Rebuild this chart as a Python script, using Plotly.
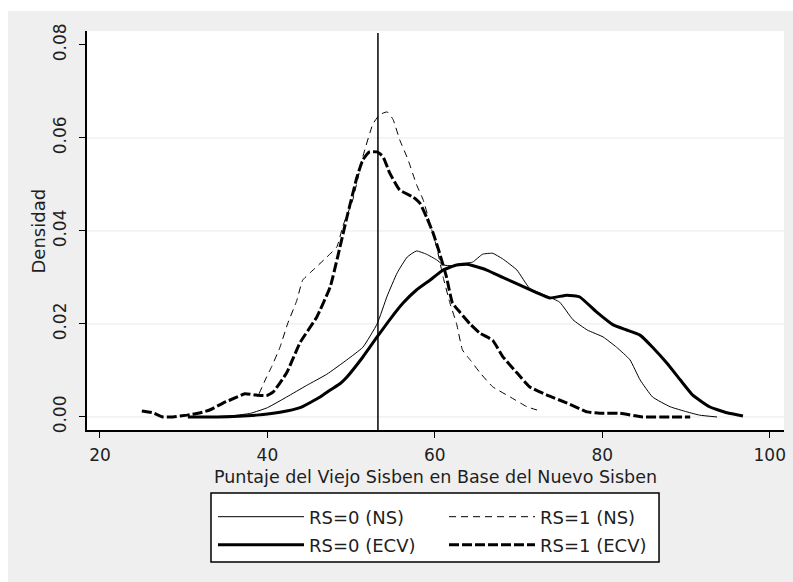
import plotly.graph_objects as go

# ---- data ----
ns0_x = [33.0, 36.0, 38.0, 40.0, 42.3, 44.7, 47.1, 49.5, 51.4, 53.1, 54.3, 55.5, 56.7, 57.8, 59.0,
         60.2, 61.0, 62.0, 63.0, 64.5, 65.7, 66.9, 68.1, 69.8, 71.3, 73.4, 74.9, 76.5, 78.2, 80.1,
         81.7, 83.3, 84.5, 86.0, 88.1, 90.1, 91.6, 93.7]
ns0_y = [0.0, 0.0003, 0.0008, 0.002, 0.0043, 0.0068, 0.0092, 0.0123, 0.015, 0.020, 0.026, 0.031,
         0.0344, 0.0357, 0.035, 0.0338, 0.0327, 0.0325, 0.033, 0.0333, 0.035, 0.0352, 0.034, 0.0316,
         0.0277, 0.026, 0.0247, 0.0209, 0.0187, 0.0172, 0.015, 0.0123, 0.008, 0.0043, 0.0022, 0.0011,
         0.0004, 0.0]

ecv0_x = [30.5, 34.0, 38.7, 41.5, 43.9, 46.3, 47.5, 48.7, 49.5, 51.4, 53.1, 54.6, 56.2, 57.8, 59.4,
          61.0, 62.6, 64.0, 66.2, 68.1, 70.1, 72.2, 73.7, 75.8, 77.3, 79.3, 81.3, 82.9, 84.5, 86.0,
          87.7, 89.3, 90.8, 92.8, 94.9, 96.8]
ecv0_y = [0.0, 0.0, 0.0004, 0.001, 0.002, 0.0043, 0.0058, 0.0072, 0.0086, 0.0129, 0.0172, 0.0209,
          0.0245, 0.0273, 0.0294, 0.0316, 0.0327, 0.0328, 0.0316, 0.030, 0.0284, 0.0267, 0.0256,
          0.0262, 0.0258, 0.0226, 0.0198, 0.0187, 0.0176, 0.015, 0.0116, 0.008, 0.0047, 0.0022,
          0.0009, 0.0002]

ns1_x = [39.0, 39.9, 40.5, 41.5, 42.4, 43.5, 44.2, 45.1, 47.1, 48.3, 49.0, 50.2, 51.4, 52.6, 53.4,
         54.3, 55.0, 55.8, 56.8, 57.8, 58.6, 59.4, 60.2, 61.0, 61.8, 62.6, 63.3, 64.2, 65.4, 66.9,
         69.0, 71.0, 72.2]
ns1_y = [0.005, 0.0086, 0.0108, 0.015, 0.020, 0.025, 0.0294, 0.031, 0.0344, 0.0366, 0.041, 0.0467,
         0.056, 0.063, 0.065, 0.0656, 0.064, 0.0596, 0.0553, 0.050, 0.0467, 0.0417, 0.0366, 0.030,
         0.0245, 0.020, 0.0144, 0.0123, 0.0095, 0.0065, 0.0043, 0.0022, 0.0015]

ecv1_x = [25.0, 26.3, 27.5, 28.7, 30.4, 32.0, 33.1, 34.7, 36.4, 37.3, 38.7, 39.9, 40.7, 42.3, 43.9,
          45.9, 47.5, 48.4, 49.5, 50.7, 51.4, 52.2, 53.1, 53.8, 54.6, 55.8, 57.4, 58.2, 59.0, 59.8,
          60.6, 61.4, 62.1, 63.0, 64.2, 65.4, 66.9, 68.1, 69.8, 71.3, 73.4, 75.8, 78.2, 79.7, 82.1,
          84.8, 88.1, 90.5]
ecv1_y = [0.0013, 0.0009, 0.0, 0.0, 0.0004, 0.0009, 0.0015, 0.003, 0.0043, 0.005, 0.0047, 0.0046,
          0.0054, 0.0095, 0.016, 0.0215, 0.028, 0.0345, 0.043, 0.0516, 0.0553, 0.057, 0.057, 0.056,
          0.0525, 0.0488, 0.0473, 0.046, 0.043, 0.0395, 0.035, 0.030, 0.0245, 0.0225, 0.020, 0.018,
          0.0165, 0.013, 0.0095, 0.0065, 0.0047, 0.003, 0.0011, 0.0008, 0.0008, 0.0, 0.0, 0.0]

names = ["RS=0 (NS)", "RS=1 (NS)", "RS=0 (ECV)", "RS=1 (ECV)"]
cutoff = 53.2
x_ticks = [20, 40, 60, 80, 100]
y_ticks = [0.0, 0.02, 0.04, 0.06, 0.08]
grid_vals = [0.0, 0.02, 0.04, 0.06]
x_title = "Puntaje del Viejo Sisben en Base del Nuevo Sisben"
y_title = "Densidad"

FONT = "DejaVu Sans"
TXT = "#1e1e1e"

fig = go.Figure()
series = [
    (ns0_x, ns0_y, names[0], dict(color="black", width=1.0, dash="solid"), "legend"),
    (ns1_x, ns1_y, names[1], dict(color="black", width=1.0, dash="7px,5px"), "legend"),
    (ecv0_x, ecv0_y, names[2], dict(color="black", width=3.0, dash="solid"), "legend2"),
    (ecv1_x, ecv1_y, names[3], dict(color="black", width=3.0, dash="10px,3px"), "legend2"),
]
for xs, ys, nm, ln, lg in series:
    fig.add_trace(go.Scatter(x=xs, y=ys, name=nm, mode="lines",
                             line=dict(shape="spline", smoothing=0.4, **ln),
                             legend=lg, hoverinfo="skip"))

shapes = []
# white strips outside the gray graph region
shapes.append(dict(type="rect", xref="paper", yref="paper", x0=-0.2, x1=1.1,
                   y0=(430 - 11) / 399, y1=1.2, fillcolor="white", line=dict(width=0), layer="below"))
shapes.append(dict(type="rect", xref="paper", yref="paper", x0=-0.2, x1=(8 - 87) / 697,
                   y0=-0.5, y1=1.2, fillcolor="white", line=dict(width=0), layer="below"))
for g in grid_vals:
    shapes.append(dict(type="line", xref="paper", yref="y", x0=0, x1=1, y0=g, y1=g,
                       line=dict(color="#e9e9e9", width=1), layer="below"))
shapes.append(dict(type="line", xref="x", yref="paper", x0=cutoff, x1=cutoff, y0=0, y1=0.995,
                   line=dict(color="black", width=1.5)))
# legend frame
shapes.append(dict(type="rect", xref="paper", yref="paper", x0=0.1779, x1=0.8207,
                   y0=-0.3308, y1=-0.1579, fillcolor="white", line=dict(color="black", width=1.5)))

leg_common = dict(orientation="h", xanchor="left", yanchor="middle", bgcolor="rgba(0,0,0,0)",
                  borderwidth=0, itemwidth=86, entrywidth=130, traceorder="normal",
                  font=dict(family=FONT, size=18, color=TXT), itemclick=False, itemdoubleclick=False)

fig.update_layout(
    width=793, height=582,
    margin=dict(l=87, r=9, t=31, b=152, pad=0, autoexpand=False),
    paper_bgcolor="#efefef", plot_bgcolor="white",
    font=dict(family=FONT, color=TXT),
    showlegend=True,
    legend=dict(x=(213 - 87) / 697, y=(430 - 517) / 399, **leg_common),
    legend2=dict(x=(213 - 87) / 697, y=(430 - 545) / 399, **leg_common),
    xaxis=dict(range=[18.45, 101.7], tickmode="array", tickvals=x_ticks,
               ticks="outside", ticklen=6, tickwidth=1.3, tickcolor="black",
               showline=True, linecolor="black", linewidth=1.5, showgrid=False, zeroline=False,
               ticklabelstandoff=3,
               tickfont=dict(family=FONT, size=17, color=TXT)),
    yaxis=dict(range=[-0.0028, 0.083], tickmode="array", tickvals=y_ticks, tickformat=".2f",
               tickangle=-90, ticks="outside", ticklen=6, tickwidth=1.3, tickcolor="black",
               showline=True, linecolor="black", linewidth=1.5, showgrid=False, zeroline=False,
               ticklabelstandoff=6,
               tickfont=dict(family=FONT, size=17, color=TXT)),
    shapes=shapes,
    annotations=[
        dict(text=y_title, xref="paper", yref="paper", x=(38 - 87) / 697, y=0.4975,
             textangle=-90, showarrow=False, xanchor="center", yanchor="middle",
             font=dict(family=FONT, size=18, color=TXT)),
        dict(text=x_title, xref="paper", yref="paper", x=0.5, y=(430 - 477) / 399,
             showarrow=False, xanchor="center", yanchor="middle",
             font=dict(family=FONT, size=17.5, color=TXT)),
    ],
)

fig.write_html("out.html")
